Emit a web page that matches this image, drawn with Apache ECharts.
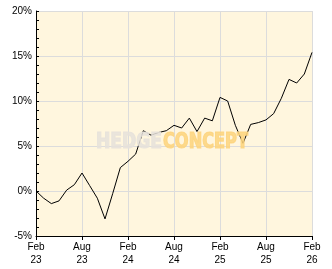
<!DOCTYPE html>
<html><head><meta charset="utf-8">
<script src="https://cdn.jsdelivr.net/npm/echarts@6/dist/echarts.min.js"></script>
<style>html,body{margin:0;padding:0;background:#fff}#c{width:332px;height:269px}</style>
</head><body><div id="c"></div>
<script>
const months = ["Feb 23","Mar 23","Apr 23","May 23","Jun 23","Jul 23","Aug 23","Sep 23","Oct 23","Nov 23","Dec 23","Jan 24",
  "Feb 24","Mar 24","Apr 24","May 24","Jun 24","Jul 24","Aug 24","Sep 24","Oct 24","Nov 24","Dec 24","Jan 25",
  "Feb 25","Mar 25","Apr 25","May 25","Jun 25","Jul 25","Aug 25","Sep 25","Oct 25","Nov 25","Dec 25","Jan 26","Feb 26"];
const returns = [0, -0.8, -1.4, -1.1, 0.1, 0.7, 2.0, 0.6, -0.8, -3.1, -0.3, 2.6,
  3.3, 4.1, 6.7, 6.2, 6.5, 6.7, 7.3, 7.0, 8.1, 6.6, 8.1, 7.8,
  10.4, 10.0, 7.3, 5.3, 7.4, 7.6, 7.9, 8.6, 10.3, 12.4, 12.0, 13.0, 15.4];
const yTicks = [-5, 0, 5, 10, 15, 20];
const watermark = ["HEDGE", "CONCEPT"];

const wmFont = 'bold 22px "DejaVu Sans Condensed"';
const mctx = document.createElement('canvas').getContext('2d');
mctx.font = wmFont;
function wmScale(text, target) { return target / mctx.measureText(text).width; }

const chart = echarts.init(document.getElementById('c'), null, {renderer: 'canvas'});
chart.setOption({
  animation: false,
  backgroundColor: '#ffffff',
  grid: {left: 36, right: 20, top: 11, bottom: 33, show: true, backgroundColor: '#fff6de', borderWidth: 0},
  xAxis: {
    type: 'category', data: months, boundaryGap: false,
    axisLine: {onZero: false, lineStyle: {color: '#000', width: 1}},
    axisTick: {show: true, interval: 5, length: 4, lineStyle: {color: '#000'}},
    axisLabel: {interval: 5, margin: 5, color: '#000', fontFamily: 'Liberation Sans', fontSize: 10, lineHeight: 13,
      formatter: v => v.replace(' ', '\n')},
    splitLine: {show: true, interval: 5, lineStyle: {color: '#dcdcdc', width: 1}}
  },
  yAxis: {
    type: 'value', min: yTicks[0], max: yTicks[yTicks.length - 1], interval: 5,
    axisLine: {show: true, lineStyle: {color: '#000', width: 1}},
    axisTick: {show: true, inside: true, length: 3, lineStyle: {color: '#000'}},
    minorTick: {show: true, splitNumber: 5, length: 3, lineStyle: {color: '#000'}},
    axisLabel: {margin: 4, color: '#000', fontFamily: 'Liberation Sans', fontSize: 10, formatter: v => v + '%'},
    splitLine: {show: true, lineStyle: {color: '#dcdcdc', width: 1}}
  },
  series: [{
    type: 'line', data: returns, symbol: 'none', z: 3,
    lineStyle: {color: '#000', width: 1}
  }],
  graphic: [
    {type: 'text', x: 96, y: 131, scaleX: wmScale(watermark[0], 66), z: 100, silent: true,
      style: {text: watermark[0], fill: '#e6e2da', stroke: '#e6e2da', lineWidth: 1.2, opacity: 0.85, font: wmFont, textBaseline: 'alphabetic'}},
    {type: 'text', x: 163, y: 131, scaleX: wmScale(watermark[1], 85), z: 100, silent: true,
      style: {text: watermark[1], fill: '#fdd37c', stroke: '#fdd37c', lineWidth: 1.2, opacity: 0.85, font: wmFont, textBaseline: 'alphabetic'}}
  ]
});
</script></body></html>
